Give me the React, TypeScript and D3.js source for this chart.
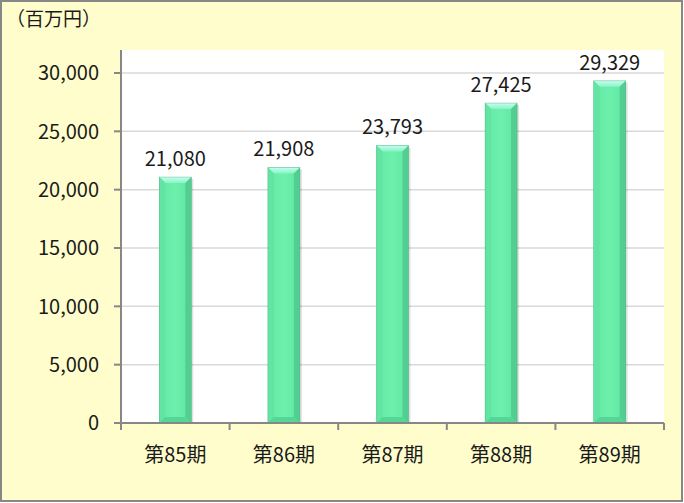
import React from 'react';
import * as d3 from 'd3';

const categories = ['第85期', '第86期', '第87期', '第88期', '第89期'];
const values = [21080, 21908, 23793, 27425, 29329];
const yTicks = [0, 5000, 10000, 15000, 20000, 25000, 30000];
const unitLabel = '（百万円）';

const W = 684;
const H = 503;
const plot = { left: 121, right: 664, top: 50, bottom: 423 };
const FONT = '"Noto Sans CJK JP", "Noto Sans", sans-serif';

function Bar({ x, y, width, height }: { x: number; y: number; width: number; height: number }) {
  const b = 6; // bevel size
  return (
    <g>
      {/* soft shadow */}
      <rect x={x + 2} y={y + 2} width={width} height={height - 2} fill="#000" opacity={0.12} />
      <rect x={x} y={y} width={width} height={height} fill="url(#face)" />
      {/* top bevel */}
      <path d={`M${x},${y} h${width} l${-b},${b} h${-(width - 2 * b)} z`} fill="url(#topBevel)" />
      {/* left bevel */}
      <path d={`M${x},${y} l${b},${b} v${height - 2 * b} l${-b},${b} z`} fill="#62e4a2" />
      {/* right bevel */}
      <path d={`M${x + width},${y} l${-b},${b} v${height - 2 * b} l${b},${b} z`} fill="#52cf90" />
      {/* bottom bevel */}
      <path d={`M${x},${y + height} h${width} l${-b},${-b} h${-(width - 2 * b)} z`} fill="#55d596" />
      <rect x={x} y={y} width={width} height={height} fill="none" stroke="#3aa874" strokeWidth={0.6} opacity={0.6} />
    </g>
  );
}

export default function App() {
  const x = d3.scaleBand<string>().domain(categories).range([plot.left, plot.right]);
  const y = d3.scaleLinear().domain([0, 30000]).range([plot.bottom, 73]);
  const fmt = d3.format(',');
  const barW = 32;

  const boundaries = categories.map((c) => x(c)!).concat([plot.right]);

  return (
    <svg width={W} height={H} style={{ position: 'absolute', left: 0, top: 0, display: 'block' }} fontFamily={FONT}>
      <defs>
        <linearGradient id="face" x1="0" x2="1" y1="0" y2="0">
          <stop offset="0" stopColor="#64eaa6" />
          <stop offset="0.5" stopColor="#6cf0ac" />
          <stop offset="1" stopColor="#60e4a2" />
        </linearGradient>
        <linearGradient id="topBevel" x1="0" x2="0" y1="0" y2="1">
          <stop offset="0" stopColor="#c8fdf0" />
          <stop offset="1" stopColor="#88f4c6" />
        </linearGradient>
      </defs>
      <rect x={1} y={1} width={681} height={500} fill="#FFFDCC" stroke="#878787" strokeWidth={2} />
      <rect x={plot.left} y={plot.top} width={plot.right - plot.left} height={plot.bottom - plot.top} fill="#fff" />

      {yTicks.map((t) => (
        <g key={t}>
          {t > 0 && (
            <line x1={plot.left} x2={plot.right} y1={y(t)} y2={y(t)} stroke="#d9d9d9" strokeWidth={1.5} />
          )}
          <line x1={114} x2={plot.left} y1={y(t)} y2={y(t)} stroke="#878787" strokeWidth={2} />
          <text x={99} y={y(t)} dy="0.36em" textAnchor="end" fontSize={20} fill="#1a1a1a">
            {fmt(t)}
          </text>
        </g>
      ))}

      {categories.map((c, i) => {
        const cx = x(c)! + x.bandwidth() / 2;
        const top = y(values[i]);
        return (
          <g key={c}>
            <Bar x={cx - barW / 2} y={top} width={barW} height={plot.bottom - top} />
            <text x={cx} y={top - 11} textAnchor="middle" fontSize={20} fill="#1a1a1a">
              {fmt(values[i])}
            </text>
            <text x={cx} y={462} textAnchor="middle" fontSize={20} fill="#1a1a1a">
              {c}
            </text>
          </g>
        );
      })}

      <line x1={plot.left} x2={plot.left} y1={plot.top} y2={plot.bottom} stroke="#878787" strokeWidth={2} />
      <line x1={114} x2={plot.right} y1={plot.bottom} y2={plot.bottom} stroke="#878787" strokeWidth={2} />
      {boundaries.map((bx, i) => (
        <line key={i} x1={bx} x2={bx} y1={plot.bottom} y2={430} stroke="#878787" strokeWidth={2} />
      ))}

      <text x={6} y={26} fontSize={19} fill="#1a1a1a">
        {unitLabel}
      </text>
    </svg>
  );
}
